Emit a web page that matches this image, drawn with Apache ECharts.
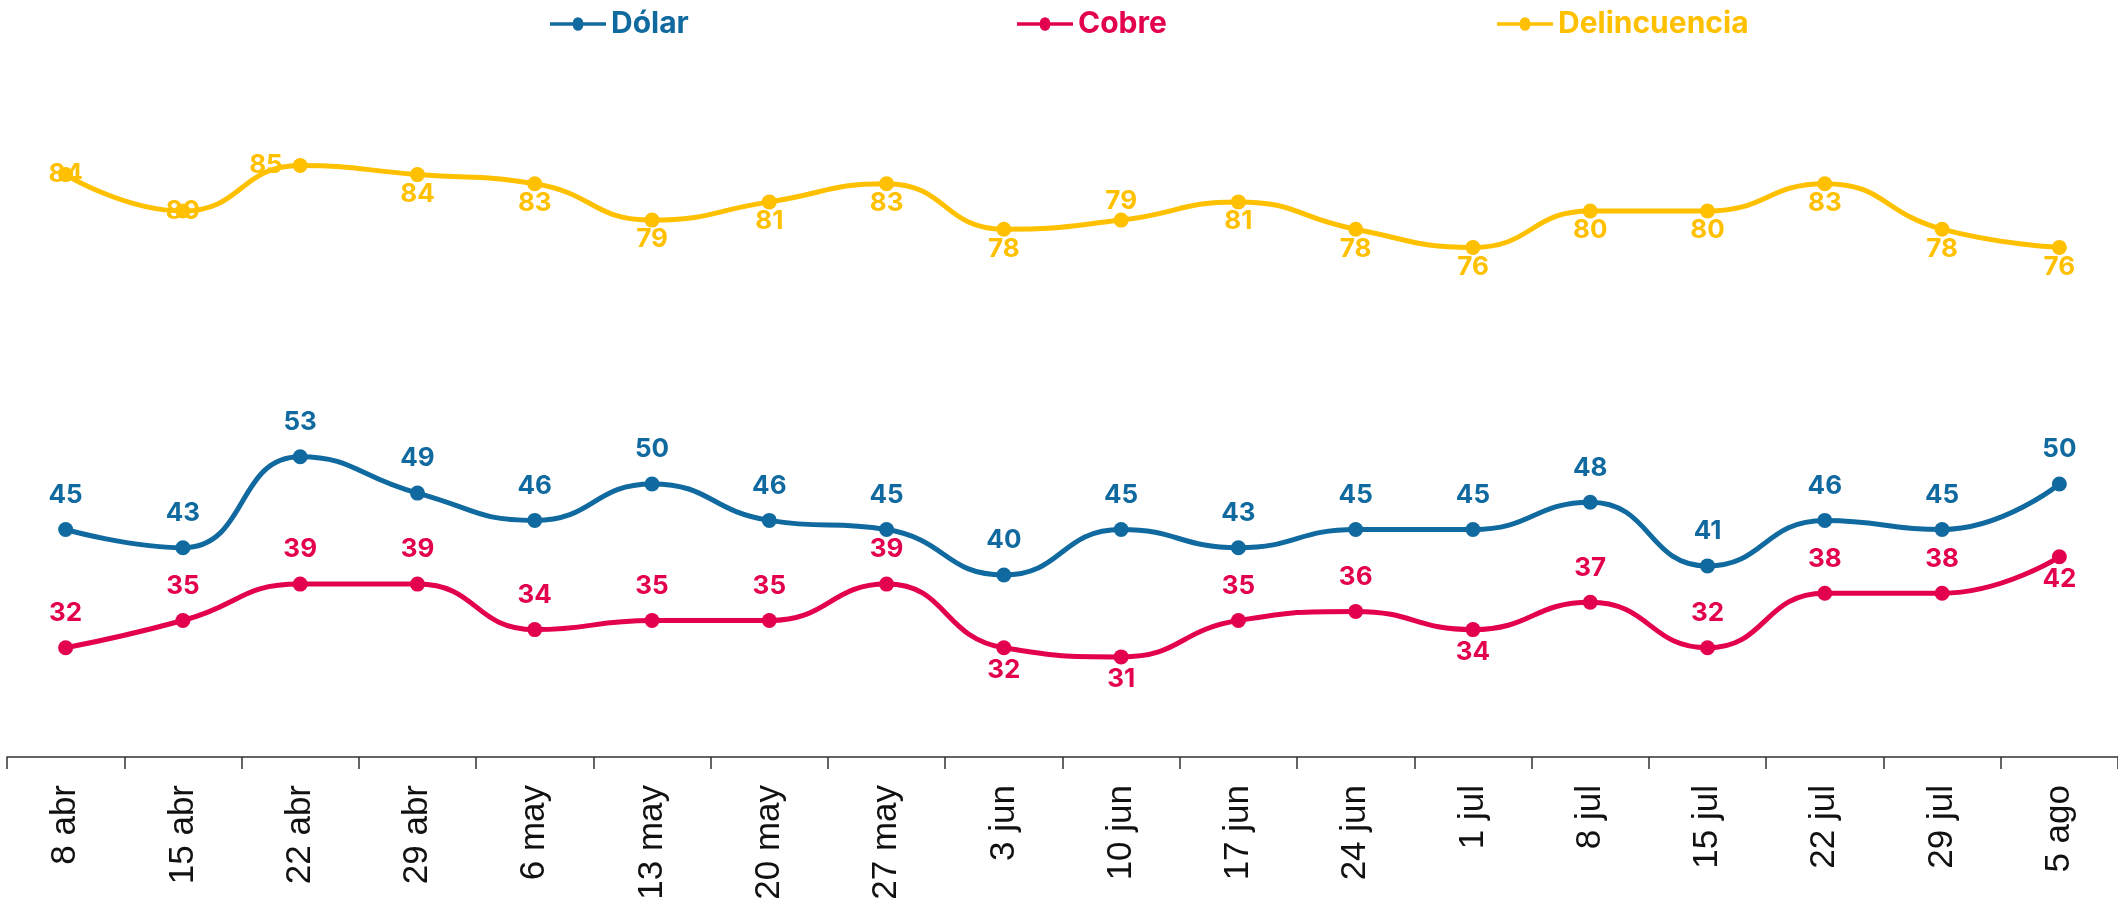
<!DOCTYPE html>
<html>
<head>
<meta charset="utf-8">
<script src="https://cdn.jsdelivr.net/npm/echarts@6/dist/echarts.min.js"></script>
<style>
  html, body { margin: 0; padding: 0; background: #fff; }
  #chart { width: 2118px; height: 909px; }
</style>
</head>
<body>
<div id="chart"></div>
<script>
// semanas
const fechas = ['8 abr', '15 abr', '22 abr', '29 abr', '6 may', '13 may', '20 may', '27 may', '3 jun',
  '10 jun', '17 jun', '24 jun', '1 jul', '8 jul', '15 jul', '22 jul', '29 jul', '5 ago'];
const dolar = [45, 43, 53, 49, 46, 50, 46, 45, 40, 45, 43, 45, 45, 48, 41, 46, 45, 50];
const cobre = [32, 35, 39, 39, 34, 35, 35, 39, 32, 31, 35, 36, 34, 37, 32, 38, 38, 42];
const delincuencia = [84, 80, 85, 84, 83, 79, 81, 83, 78, 79, 81, 78, 76, 80, 80, 83, 78, 76];

// donde va cada etiqueta
const posCobre = ['top', 'top', 'top', 'top', 'top', 'top', 'top', 'top', 'bottom', 'bottom',
  'top', 'top', 'bottom', 'top', 'top', 'top', 'top', 'bottom'];
const posDelinc = ['inside', 'inside', 'left', 'bottom', 'bottom', 'bottom', 'bottom', 'bottom', 'bottom',
  'top', 'bottom', 'bottom', 'bottom', 'bottom', 'bottom', 'bottom', 'bottom', 'bottom'];

const AZUL = '#116a9f';
const ROJO = '#e2004f';
const AMARILLO = '#ffc000';
const fuente = 'Inter, "Open Sans", sans-serif';

// icono de leyenda: linea gruesa con circulo al centro
const ICONO = 'path://M0,6.5 L20,6.5 A4.5,4.5 0 0 1 29,6.5 L49,6.5 L49,9.5 L29,9.5 A4.5,4.5 0 0 1 20,9.5 L0,9.5 Z';

function etiqueta (color) {
  return {
    show: true,
    color: color,
    fontFamily: fuente,
    fontWeight: 'bold',
    fontSize: 26
  };
}

function datos (valores, posiciones, distTop, distBottom) {
  return valores.map((v, i) => {
    const p = posiciones[i];
    let d = p === 'top' ? distTop : distBottom;
    if (p === 'left') d = 10;
    return { value: v, label: { position: p, distance: d } };
  });
}

function leyenda (nombre, color, left) {
  return {
    data: [{ name: nombre, icon: ICONO }],
    left: left,
    top: 4,
    itemWidth: 56,
    itemHeight: 18,
    itemGap: 4,
    itemStyle: { color: color, borderWidth: 0 },
    lineStyle: { width: 0 },
    textStyle: { color: color, fontFamily: fuente, fontWeight: 'bold', fontSize: 30 }
  };
}

const chart = echarts.init(document.getElementById('chart'));
chart.setOption({
  animation: false,
  legend: [
    leyenda('Dólar', AZUL, 545),
    leyenda('Cobre', ROJO, 1012),
    leyenda('Delincuencia', AMARILLO, 1492)
  ],
  grid: { left: 7, right: 0, top: 29, bottom: 152 },
  xAxis: {
    type: 'category',
    data: fechas,
    boundaryGap: true,
    axisLine: { lineStyle: { color: '#333', width: 1.5 } },
    axisTick: { show: true, length: 12, lineStyle: { color: '#333', width: 1.5 } },
    axisLabel: {
      rotate: 90,
      margin: 28,
      color: '#111',
      fontFamily: '"Liberation Sans", Arial, sans-serif',
      fontSize: 35,
      interval: 0
    }
  },
  yAxis: {
    type: 'value',
    min: 20,
    max: 100,
    show: false,
    splitLine: { show: false }
  },
  series: [
    {
      name: 'Dólar',
      type: 'line',
      smooth: true,
      symbol: 'circle',
      symbolSize: 15,
      color: AZUL,
      lineStyle: { width: 5 },
      label: Object.assign(etiqueta(AZUL), { position: 'top', distance: 14 }),
      data: dolar
    },
    {
      name: 'Cobre',
      type: 'line',
      smooth: true,
      symbol: 'circle',
      symbolSize: 15,
      color: ROJO,
      lineStyle: { width: 5 },
      label: etiqueta(ROJO),
      data: datos(cobre, posCobre, 14, 2)
    },
    {
      name: 'Delincuencia',
      type: 'line',
      smooth: true,
      symbol: 'circle',
      symbolSize: 15,
      color: AMARILLO,
      lineStyle: { width: 5 },
      label: etiqueta(AMARILLO),
      data: datos(delincuencia, posDelinc, -2, -1)
    }
  ]
});
</script>
</body>
</html>
